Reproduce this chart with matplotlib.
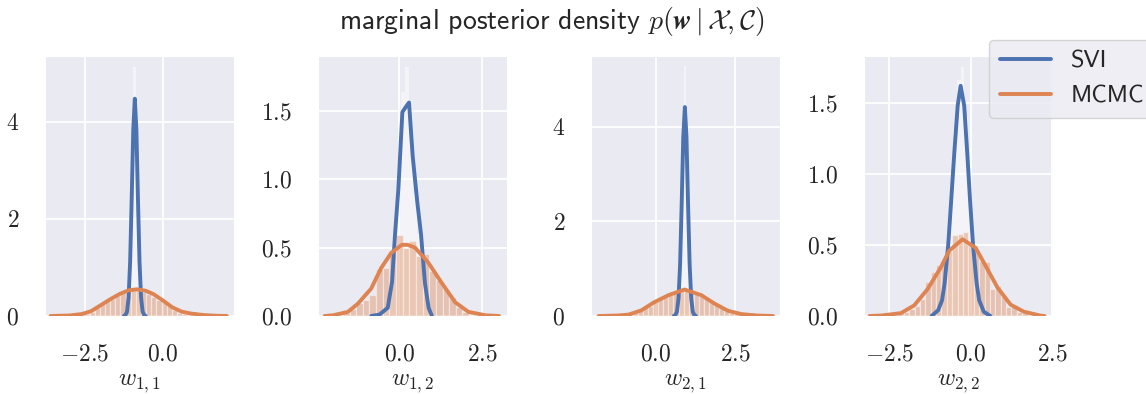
import matplotlib
matplotlib.use("Agg")
import numpy as np
import matplotlib.pyplot as plt
from matplotlib.ticker import MultipleLocator, FuncFormatter
import seaborn as sns

# ---- data ----
LABELS = [r"$w_{1,1}$", r"$w_{1,2}$", r"$w_{2,1}$", r"$w_{2,2}$"]

# SVI density curves
SVI_X = [
    [-1.25, -1.2, -1.15, -1.1, -1.05, -1.0, -0.95, -0.9, -0.85, -0.8, -0.75, -0.7, -0.65, -0.6, -0.55],
    [-0.85, -0.6, -0.35, -0.22, -0.13, -0.03, 0.09, 0.2, 0.29, 0.40, 0.54, 0.65, 0.77, 0.88, 0.98],
    [0.57, 0.62, 0.67, 0.72, 0.77, 0.82, 0.87, 0.92, 0.97, 1.02, 1.07, 1.12, 1.17, 1.22, 1.27],
    [-1.2, -1.0, -0.88, -0.8, -0.69, -0.6, -0.5, -0.4, -0.31, -0.2, -0.1, -0.02, 0.07, 0.18, 0.26, 0.4, 0.6],
]
SVI_Y = [
    [0.0, 0.02, 0.09, 0.38, 1.12, 2.42, 3.84, 4.48, 3.84, 2.42, 1.12, 0.38, 0.09, 0.02, 0.0],
    [0.0, 0.01, 0.06, 0.25, 0.60, 0.93, 1.49, 1.53, 1.56, 1.17, 0.83, 0.60, 0.24, 0.06, 0.0],
    [0.0, 0.02, 0.09, 0.37, 1.10, 2.38, 3.79, 4.42, 3.79, 2.38, 1.10, 0.37, 0.09, 0.02, 0.0],
    [0.0, 0.04, 0.11, 0.23, 0.50, 0.81, 1.16, 1.48, 1.62, 1.48, 1.12, 0.81, 0.50, 0.23, 0.11, 0.03, 0.0],
]

# MCMC density curves
MCMC_X = [
    [-3.6, -3.0, -2.6, -2.3, -2.0, -1.7, -1.4, -1.1, -0.83, -0.55, -0.3, 0.0, 0.3, 0.6, 0.9, 1.3, 1.7, 2.05],
    [-2.25, -2.0, -1.55, -1.25, -0.85, -0.55, -0.25, 0.07, 0.25, 0.47, 0.87, 1.28, 1.68, 2.08, 2.6, 3.0],
    [-1.8, -1.2, -0.85, -0.45, -0.05, 0.4, 0.91, 1.44, 1.86, 2.28, 2.7, 3.2, 3.7],
    [-3.1, -2.75, -2.14, -1.73, -1.32, -0.92, -0.66, -0.25, 0.15, 0.51, 0.82, 1.22, 1.63, 2.13, 2.26],
]
MCMC_Y = [
    [0.0, 0.01, 0.04, 0.10, 0.22, 0.34, 0.45, 0.53, 0.55, 0.52, 0.45, 0.32, 0.18, 0.09, 0.05, 0.02, 0.005, 0.0],
    [0.0, 0.005, 0.03, 0.09, 0.20, 0.35, 0.46, 0.52, 0.52, 0.50, 0.39, 0.24, 0.10, 0.03, 0.005, 0.0],
    [0.0, 0.01, 0.03, 0.12, 0.29, 0.44, 0.56, 0.44, 0.26, 0.11, 0.04, 0.01, 0.0],
    [0.0, 0.003, 0.02, 0.075, 0.19, 0.34, 0.46, 0.54, 0.48, 0.33, 0.20, 0.08, 0.03, 0.003, 0.0],
]

# histograms: first bin centre, bin width, heights
SVI_BIN0 = [-1.155, -0.50, 0.665, -0.915]
SVI_BINW = [0.085, 0.12, 0.085, 0.11]
SVI_HIST = [
    [0.1, 0.8, 3.0, 5.14, 2.8, 0.7, 0.1],
    [0.02, 0.05, 0.2, 0.55, 1.0, 1.64, 1.82, 1.3, 0.9, 0.6, 0.3, 0.1, 0.02],
    [0.1, 0.9, 3.2, 5.28, 2.9, 0.8, 0.1],
    [0.08, 0.2, 0.45, 0.85, 1.3, 1.66, 1.75, 1.4, 1.0, 0.5, 0.2, 0.08],
]
MCMC_BIN0 = [-2.6, -1.8, -0.8, -2.3]
MCMC_BINW = [0.165, 0.2, 0.16, 0.165]
MCMC_HIST = [
    [0.02, 0.05, 0.09, 0.18, 0.25, 0.30, 0.36, 0.43, 0.47, 0.52, 0.58, 0.56, 0.50, 0.46,
     0.40, 0.33, 0.29, 0.23, 0.13, 0.07, 0.04, 0.02],
    [0.01, 0.02, 0.05, 0.095, 0.115, 0.15, 0.34, 0.35, 0.45, 0.59, 0.50, 0.545, 0.44, 0.45,
     0.33, 0.26, 0.20, 0.14, 0.066, 0.03, 0.01],
    [0.03, 0.07, 0.11, 0.18, 0.22, 0.31, 0.35, 0.40, 0.45, 0.50, 0.57, 0.55, 0.54, 0.47,
     0.42, 0.38, 0.29, 0.23, 0.16, 0.11, 0.07, 0.04, 0.02],
    [0.01, 0.02, 0.03, 0.05, 0.07, 0.12, 0.24, 0.31, 0.36, 0.38, 0.46, 0.57, 0.58, 0.59,
     0.52, 0.45, 0.39, 0.38, 0.19, 0.21, 0.14, 0.06, 0.07, 0.03, 0.02, 0.01],
]

# ---- layout ----
XLIMS = [(-3.78, 2.28), (-2.45, 3.24), (-2.04, 3.92), (-3.27, 2.52)]
YLIMS = [(0, 5.36), (0, 1.90), (0, 5.50), (0, 1.83)]
YSTEP = [2, 0.5, 2, 0.5]
LEFTS = [45, 318, 591, 864]

BLUE, ORANGE = "#4c72b0", "#dd8452"

sns.set_style("darkgrid")
plt.rcParams.update({
    "mathtext.fontset": "cm",
    "font.family": ["cmss10", "DejaVu Sans"],
    "xtick.labelsize": 17,
    "ytick.labelsize": 17,
    "xtick.major.pad": 16,
    "ytick.major.pad": 15,
    "grid.linewidth": 1.3,
})


def tick_fmt(decimals):
    return FuncFormatter(lambda v, _: f"${v:.{decimals}f}$")


W, H = 1146, 394
fig = plt.figure(figsize=(W / 100, H / 100), dpi=100)

for i in range(4):
    ax = fig.add_axes([LEFTS[i] / W, 78 / H, 189 / W, 260 / H])

    sc = SVI_BIN0[i] + SVI_BINW[i] * np.arange(len(SVI_HIST[i]))
    ax.bar(sc, SVI_HIST[i], width=SVI_BINW[i], color="white", alpha=0.5,
           linewidth=0, zorder=2)
    mc = MCMC_BIN0[i] + MCMC_BINW[i] * np.arange(len(MCMC_HIST[i]))
    ax.bar(mc, MCMC_HIST[i], width=MCMC_BINW[i], color=ORANGE, alpha=0.4,
           edgecolor="white", linewidth=0.9, zorder=2)

    l1, = ax.plot(SVI_X[i], SVI_Y[i], color=BLUE, lw=2.8, zorder=3, label="SVI")
    l2, = ax.plot(MCMC_X[i], MCMC_Y[i], color=ORANGE, lw=2.8, zorder=4, label="MCMC")

    ax.set_xlim(*XLIMS[i])
    ax.set_ylim(*YLIMS[i])
    ax.xaxis.set_major_locator(MultipleLocator(2.5))
    ax.yaxis.set_major_locator(MultipleLocator(YSTEP[i]))
    ax.xaxis.set_major_formatter(tick_fmt(1))
    ax.yaxis.set_major_formatter(tick_fmt(0 if YSTEP[i] >= 1 else 1))
    ax.set_xlabel(LABELS[i], fontsize=17.5, labelpad=5)

fig.legend([l1, l2], ["SVI", "MCMC"], loc="upper left", borderaxespad=0,
           bbox_to_anchor=(989 / W, 1 - 40 / H), fontsize=17.5, handlelength=2.1,
           borderpad=0.45)

fig.text(552 / W, 1 - 21 / H,
         r"marginal posterior density $p(\mathbfit{w}\,|\,\mathcal{X},\mathcal{C})$",
         ha="center", va="center", fontsize=20)

fig.savefig("out.png", dpi=100)
